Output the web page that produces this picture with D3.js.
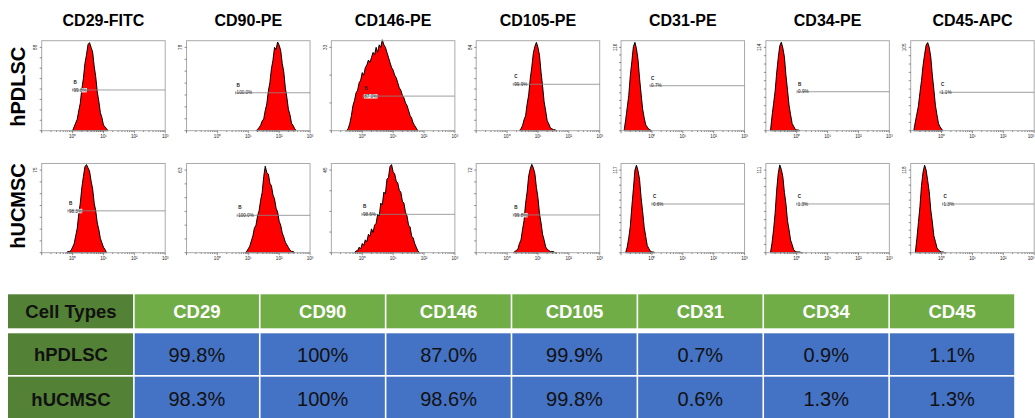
<!DOCTYPE html>
<html lang="en">
<head>
<meta charset="UTF-8">
<title>Flow cytometry surface markers</title>
<script src="https://d3js.org/d3.v7.min.js"></script>
<style>
    body { margin: 0; background: #fff; }
    svg { display: block; font-family: "Liberation Sans", Arial, sans-serif; }
    .title { font-size: 16px; font-weight: bold; }
    .rowlab { font-size: 20px; font-weight: bold; }
    .tiny { font-size: 4.6px; fill: #222; }
    .hist { fill: #ff0000; stroke: #000; stroke-width: 1px; stroke-linejoin: round; }
    .frame { fill: none; stroke: #aaa; stroke-width: 1px; }
    .tick { stroke: #444; stroke-width: 0.6px; }
    .gate { stroke: #888; stroke-width: 0.8px; }
</style>
</head>
<body>
<svg width="1035" height="418"></svg>
<script>
    // ---- data ----
    const markers = ["CD29-FITC", "CD90-PE", "CD146-PE", "CD105-PE", "CD31-PE", "CD34-PE", "CD45-APC"];
    const cellTypes = ["hPDLSC", "hUCMSC"];
    const decadeLabels = ["10\u2070", "10\u00b9", "10\u00b2", "10\u00b3"];

    // y axis max label (count) of each histogram
    const pdlscYMax = [88, 78, 33, 84, 116, 114, 105];
    const ucmscYMax = [75, 63, 45, 72, 117, 111, 118];

    // histograms: first bin (log10 intensity), bins 0.05 decade apart
    const binStep = 0.05;
    const pdlscStart = [0.0, 1.25, -0.5, 0.4, -0.9, -0.85, -0.9];
    const ucmscStart = [-0.2, 0.9, -0.25, 0.2, -0.85, -0.85, -0.85];

    const pdlscCD29 = [0, 4, 8, 12, 21, 29, 44, 55, 71, 80, 91, 93, 88, 83, 68, 57, 41, 31, 19, 14, 6, 4, 2, 0];
    const pdlscCD90 = [0, 1, 3, 5, 9, 11, 19, 25, 37, 45, 58, 66, 78, 76, 83, 80, 75, 63, 55, 40, 31, 20, 15, 7, 5, 2, 0];
    const pdlscCD146 = [0, 1, 3, 6, 10, 12, 15, 16, 19, 20, 23, 22, 25, 26, 28, 27, 29, 31, 30, 33, 31, 34, 33, 36,
        34, 33, 31, 29, 27, 25, 24, 22, 21, 19, 17, 16, 14, 13, 11, 10, 8, 6, 5, 3, 2, 1, 0];
    const pdlscCD105 = [0, 2, 5, 11, 15, 27, 36, 52, 64, 78, 85, 89, 84, 76, 59, 45, 29, 20, 10, 7, 3, 2, 1, 1, 0];
    const pdlscCD31 = [0, 15, 32, 49, 76, 96, 117, 123, 114, 99, 73, 51, 30, 18, 8, 5, 2, 1, 0];
    const pdlscCD34 = [0, 20, 37, 54, 79, 99, 116, 121, 113, 101, 76, 56, 35, 22, 10, 6, 2, 1, 1, 0];
    const pdlscCD45 = [0, 11, 21, 31, 48, 63, 82, 96, 108, 111, 105, 93, 70, 52, 32, 20, 9, 5, 2, 0];

    const ucmscCD29 = [0, 1, 1, 2, 5, 8, 15, 22, 35, 45, 59, 69, 78, 80, 77, 74, 65, 58, 45, 38, 27, 21, 13, 9, 5, 3, 0];
    const ucmscCD90 = [0, 1, 3, 5, 9, 13, 19, 21, 28, 32, 40, 46, 58, 66, 61, 60, 53, 51, 44, 41, 34, 31, 24, 21,
        15, 12, 8, 6, 4, 2, 1, 1, 0];
    const ucmscCD146 = [0, 1, 1, 3, 2, 5, 4, 7, 6, 10, 9, 13, 11, 15, 16, 21, 20, 27, 26, 33, 32, 40, 41, 47, 48,
        44, 43, 39, 38, 34, 33, 28, 27, 22, 20, 15, 14, 9, 8, 5, 3, 1, 0];
    const ucmscCD105 = [0, 1, 2, 3, 8, 11, 20, 28, 43, 53, 67, 73, 77, 74, 69, 57, 48, 34, 26, 16, 11, 5, 3, 2, 1, 1, 1, 0, 0];
    const ucmscCD31 = [0, 8, 21, 37, 65, 90, 117, 124, 116, 104, 78, 58, 36, 23, 10, 6, 2, 1, 1, 0];
    const ucmscCD34 = [0, 13, 31, 53, 84, 106, 118, 112, 102, 81, 66, 43, 31, 17, 11, 4, 2, 1, 1, 1, 0, 0];
    const ucmscCD45 = [0, 20, 43, 66, 96, 115, 125, 118, 103, 87, 61, 44, 24, 16, 7, 4, 2, 1, 1, 0, 0];

    // marker gates: start (log10), height (count), name, percent
    const pdlscGateFrom = [0.0, 0.59, 0.03, 0.2, -0.06, 0.01, -0.05];
    const pdlscGateLevel = [43, 35.5, 13.7, 46.8, 62.6, 53.3, 48.4];
    const pdlscGateName = ["B", "B", "B", "C", "C", "B", "C"];
    const pdlscGatePct = ["99.8%", "100.0%", "87.0%", "99.9%", "0.7%", "0.9%", "1.1%"];

    const ucmscGateFrom = [-0.15, 0.64, -0.01, 0.2, 0.0, 0.0, 0.03];
    const ucmscGateLevel = [38, 28.5, 20.9, 32.9, 69, 65.5, 69.6];
    const ucmscGateName = ["B", "B", "B", "B", "C", "C", "C"];
    const ucmscGatePct = ["98.3%", "100.0%", "98.6%", "99.8%", "0.6%", "1.3%", "1.3%"];

    // summary table
    const tableHead = ["Cell Types", "CD29", "CD90", "CD146", "CD105", "CD31", "CD34", "CD45"];
    const pdlscTable = ["99.8%", "100%", "87.0%", "99.9%", "0.7%", "0.9%", "1.1%"];
    const ucmscTable = ["98.3%", "100%", "98.6%", "99.8%", "0.6%", "1.3%", "1.3%"];

    const rows = [
        {
            name: cellTypes[0], yMax: pdlscYMax, start: pdlscStart,
            hists: [pdlscCD29, pdlscCD90, pdlscCD146, pdlscCD105, pdlscCD31, pdlscCD34, pdlscCD45],
            gFrom: pdlscGateFrom, gLevel: pdlscGateLevel, gName: pdlscGateName, gPct: pdlscGatePct
        },
        {
            name: cellTypes[1], yMax: ucmscYMax, start: ucmscStart,
            hists: [ucmscCD29, ucmscCD90, ucmscCD146, ucmscCD105, ucmscCD31, ucmscCD34, ucmscCD45],
            gFrom: ucmscGateFrom, gLevel: ucmscGateLevel, gName: ucmscGateName, gPct: ucmscGatePct
        }
    ];

    // ---- layout ----
    const W = 1035;
    const svg = d3.select("svg");
    const panelW = 123.5;
    const rowTop = [40.7, 163.5], panelH = [90, 89.2];
    const rowLabelY = [86.7, 206];
    const colLeft = d3.scaleLinear().domain([0, 6]).range([41.7, 910.7]);

    // column titles
    svg.append("g").selectAll("text")
        .data(markers)
        .enter().append("text")
        .attr("class", "title")
        .attr("x", (d, i) => colLeft(i) + panelW / 2)
        .attr("y", 26)
        .attr("text-anchor", "middle")
        .text(d => d);

    rows.forEach(function (row, r) {
        const top = rowTop[r], h = panelH[r];

        svg.append("text")
            .attr("class", "rowlab")
            .attr("transform", "translate(24.5," + rowLabelY[r] + ") rotate(-90)")
            .attr("text-anchor", "middle")
            .text(row.name);

        markers.forEach(function (m, c) {
            const left = colLeft(c);
            const g = svg.append("g");
            const x = d3.scaleLinear().domain([-1, 3]).range([left, left + panelW]);
            const y = d3.scaleLinear().domain([0, row.yMax[c] * 1.08]).range([top + h, top]);

            const counts = row.hists[c];
            const pts = counts.map((v, i) => [row.start[c] + i * binStep, v]);
            const area = d3.area()
                .x(d => x(d[0]))
                .y0(y(0))
                .y1(d => y(d[1]));
            g.append("path").attr("class", "hist").attr("d", area(pts));

            g.append("rect").attr("class", "frame")
                .attr("x", left).attr("y", top)
                .attr("width", panelW).attr("height", h);

            // x log ticks
            const minor = [];
            for (let d = -1; d < 3; d++) {
                for (let k = 1; k < 10; k++) minor.push({ v: d + Math.log10(k), major: k === 1 });
            }
            minor.push({ v: 3, major: true });
            g.selectAll(".xt").data(minor).enter().append("line")
                .attr("class", "tick")
                .attr("x1", d => x(d.v)).attr("x2", d => x(d.v))
                .attr("y1", top + h)
                .attr("y2", d => top + h + (d.major ? 2.5 : 1.3));
            g.selectAll(".xl").data(decadeLabels).enter().append("text")
                .attr("class", "tiny")
                .attr("x", (d, i) => Math.min(x(i), W - 4))
                .attr("y", top + h + 7.5)
                .attr("text-anchor", "middle")
                .text(d => d);

            // y ticks
            const n = Math.round(row.yMax[c] / 11);
            const yt = d3.range(0, n + 1).map(k => row.yMax[c] * k / n);
            g.selectAll(".yt").data(yt).enter().append("line")
                .attr("class", "tick")
                .attr("x1", left).attr("x2", left - 2)
                .attr("y1", d => y(d)).attr("y2", d => y(d));
            g.append("text").attr("class", "tiny")
                .attr("transform", "translate(" + (left - 4.5) + "," + y(row.yMax[c]) + ") rotate(-90)")
                .attr("text-anchor", "middle")
                .text(row.yMax[c]);

            // marker gate
            const gx = x(row.gFrom[c]), gy = y(row.gLevel[c]);
            g.append("line").attr("class", "gate")
                .attr("x1", gx).attr("x2", x(3))
                .attr("y1", gy).attr("y2", gy);
            g.append("line").attr("class", "gate")
                .attr("x1", gx).attr("x2", gx)
                .attr("y1", gy - 1.5).attr("y2", gy + 1.5);
            const pct = g.append("text").attr("class", "tiny")
                .attr("x", gx + 1).attr("y", gy + 1.7)
                .text(row.gPct[c]);
            const bb = pct.node().getBBox();
            g.insert("rect", "text")
                .attr("x", bb.x - 0.3).attr("y", bb.y + 0.3)
                .attr("width", bb.width + 0.6).attr("height", bb.height - 0.6)
                .attr("fill", "#fff");
            g.append("text").attr("class", "tiny")
                .attr("x", gx + 1).attr("y", gy - 6)
                .attr("font-weight", "bold")
                .text(row.gName[c]);
        });
    });

    // ---- table ----
    const tx = d3.scaleBand().domain(tableHead).range([8, 1015]);
    const bw = tx.bandwidth();
    const trows = [
        { top: 294.3, h: 34, mid: 17, cells: tableHead },
        { top: 333.3, h: 41.7, mid: 21.5, cells: [cellTypes[0]].concat(pdlscTable) },
        { top: 376.7, h: 45, mid: 22.5, cells: [cellTypes[1]].concat(ucmscTable) }
    ];
    const table = svg.append("g");
    trows.forEach(function (tr, r) {
        tr.cells.forEach(function (v, c) {
            const fill = c === 0 ? "#538135" : (r === 0 ? "#70ad47" : "#4472c4");
            const cx = tx(tableHead[c]);
            const bold = c === 0 || r === 0;
            table.append("rect")
                .attr("x", cx + (c === 0 ? 0 : 0.8))
                .attr("y", tr.top)
                .attr("width", bw - (c === 0 ? 0.8 : 1.6))
                .attr("height", tr.h)
                .attr("fill", fill);
            table.append("text")
                .attr("x", cx + bw / 2)
                .attr("y", tr.top + tr.mid)
                .attr("dy", "0.36em")
                .attr("text-anchor", "middle")
                .attr("font-size", bold ? "18.5px" : "20px")
                .attr("font-weight", bold ? "bold" : "normal")
                .attr("fill", (r === 0 && c > 0) ? "#fff" : "#111")
                .text(v);
        });
    });
</script>
</body>
</html>
